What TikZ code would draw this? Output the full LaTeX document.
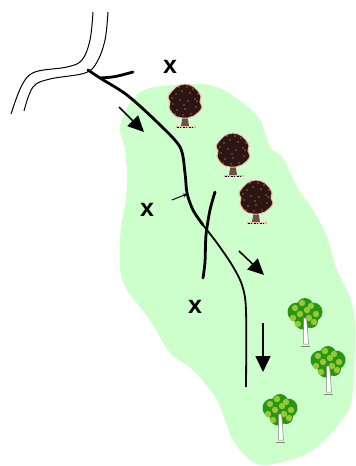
\documentclass[tikz,border=0pt]{standalone}
\usepackage{fontspec}
\setmainfont{Liberation Sans}
\usetikzlibrary{arrows.meta}

\definecolor{meadow}{RGB}{204,255,204}
\definecolor{bark}{RGB}{110,80,70}
\definecolor{crown}{RGB}{45,22,18}
\definecolor{blossom}{RGB}{244,184,168}
\definecolor{leafdark}{RGB}{40,150,20}
\definecolor{leaflight}{RGB}{150,200,50}

\tikzset{
    darktree/.pic={
        \fill[bark] (-2,12) -- (2,12) -- (4,24) -- (-4,24) -- cycle;
        \fill[blossom] (-9,23.5) rectangle (11,26);
        \draw[black, line width=1pt, dash pattern=on 2pt off 1pt on 1pt
            off 2pt] (-8,25) -- (10,25);
        \fill[crown, draw=blossom, line width=1pt] plot[smooth cycle,
        tension=0.7] coordinates {(0,-18) (5,-17) (9,-15) (13,-11)
            (16,-5) (15,0) (17,5) (14,10) (9,14) (3,16) (-3,16) (-8,15)
            (-13,11) (-16,5) (-15,0) (-17,-5) (-13,-11) (-9,-15)
            (-5,-17)};
        \foreach \p in {(-9,-8),(-3,-11),(5,-9),(10,-3),(-12,2),(-5,-2),
            (3,-1),(11,5),(-8,8),(0,7),(6,12),(-2,13),(8,-13),(-13,-4),
            (13,-8),(-6,-15),(2,-15),(-10,12),(12,-1),(-1,3)}
        \fill[blossom] \p circle (0.7);
    },
    greentree/.pic={
        \fill[leafdark] (-8,-4) circle (9.5);
        \fill[leafdark] (8,-4) circle (9.5);
        \fill[leafdark] (0,-10) circle (8);
        \fill[leafdark] (-2,5) circle (8.5);
        \fill[leafdark] (6,5) circle (7);
        \foreach \p in {(-10,-8),(-3,-13),(6,-10),(11,-2),(-12,2),(4,2),
            (-5,-2),(9,6),(-7,8),(2,-6)}
        \fill[leaflight] \p circle (3.2);
        \draw[gray, fill=white, line width=0.5pt] (-1.5,2) -- (1.5,2) --
        (2.5,14) -- (3.5,28) -- (-1.5,28) -- (-1.5,14) -- cycle;
        \draw[gray, line width=0.6pt] (-4,30) -- (5,30);
    },
}

\begin{document}
\begin{tikzpicture}[x=1pt, y=-1pt,
    bank/.style={black, line width=1pt},
    brook/.style={black, line width=2.8pt, line cap=round},
    rill/.style={black, line width=1.8pt},
    flow/.style={black, line width=1.6pt,
            -{Triangle[length=16pt, width=15pt]}},
    xmark/.style={font=\bfseries\fontsize{25}{25}\selectfont,
            inner sep=0pt}, ]

    \useasboundingbox (0,0) rectangle (356,466);

    % forest area
    \fill[meadow] plot[smooth cycle, tension=0.55] coordinates {(150,88)
        (190,84) (217,87) (243,103) (260,120) (270,147) (283,158)
        (297,187) (313,210) (327,237) (337,270) (350,297) (355,327)
        (353,387) (347,413) (317,447) (290,460) (257,464) (233,440)
        (217,400) (193,370) (170,353) (150,320) (123,282) (120,240)
        (127,187) (125,150) (120,127) (132,100)};

    % river banks
    \draw[bank] plot[smooth, tension=0.6] coordinates {(93,12) (90,40)
        (82,60) (67,67) (35,72) (22,85) (11,114)};
    \draw[bank] plot[smooth, tension=0.6] coordinates {(108,12) (105,40)
        (97,62) (85,73) (50,79) (33,87) (24,111)};

    % streams
    \draw[brook] plot[smooth, tension=0.5] coordinates {(88,70) (100,78)
        (127,95) (157,122) (180,147) (185,173) (187,193) (193,210)
        (203,225)};
    \draw[rill] plot[smooth, tension=0.5] coordinates {(203,225)
        (217,243) (232,265) (242,285) (246,310) (246,387)};
    \draw[brook] plot[smooth, tension=0.5] coordinates {(215,192)
        (210,210) (206,235) (205,262) (203,278)};
    \draw[brook] (100,78) .. controls (115,77) .. (133,72);
    \coordinate (tickstart) at (172,200);
    \coordinate (tickend) at (187,194);
    \draw[black, line width=1pt, -{Stealth[length=4pt, width=4pt]}]
    (tickstart) -- (tickend);

    % flow direction
    \coordinate (a1) at (119,107);
    \coordinate (b1) at (144,132);
    \coordinate (a2) at (239,251);
    \coordinate (b2) at (264,275);
    \coordinate (a3) at (263,323);
    \coordinate (b3) at (263,372);
    \draw[flow] (a1) -- (b1);
    \draw[flow] (a2) -- (b2);
    \draw[flow] (a3) -- (b3);

    % trees
    \pic (oak1) at (185,102) {darktree};
    \pic (oak2) at (233,151) {darktree};
    \pic (oak3) at (256,198) {darktree};
    \pic (birch1) at (305,316) {greentree};
    \pic (birch2) at (328,364) {greentree};
    \pic (birch3) at (280,412) {greentree};

    % crossings
    \node[xmark] (x1) at (170,67) {x};
    \node[xmark] (x2) at (147,210) {x};
    \node[xmark] (x3) at (195,307) {x};
\end{tikzpicture}
\end{document}
